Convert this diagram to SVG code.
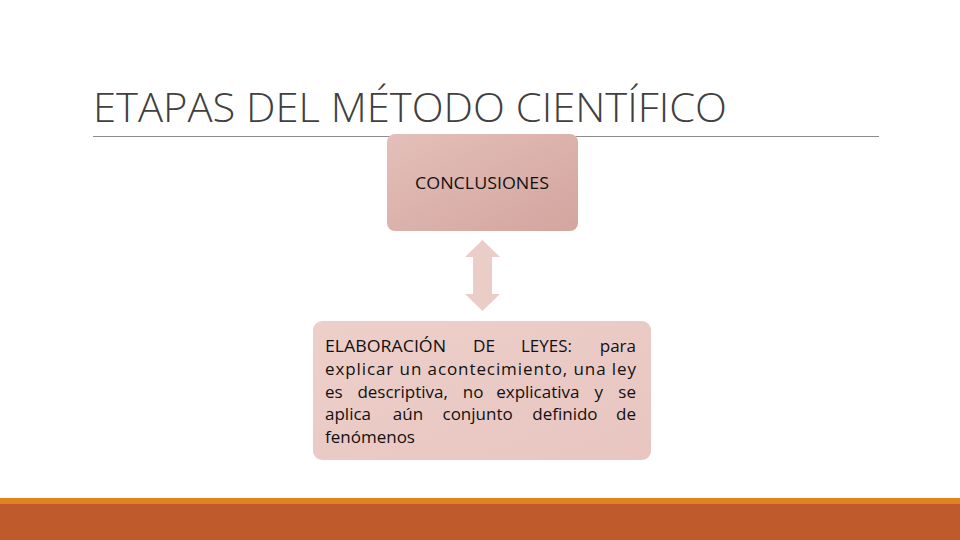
<svg xmlns="http://www.w3.org/2000/svg" width="960" height="540" viewBox="0 0 960 540">
<defs>
<linearGradient id="g1" x1="0" y1="0" x2="1" y2="1">
<stop offset="0" stop-color="#E4BFB9"/>
<stop offset="1" stop-color="#D3A59E"/>
</linearGradient>
<linearGradient id="g2" x1="0" y1="0" x2="1" y2="1">
<stop offset="0" stop-color="#EDCFCA"/>
<stop offset="1" stop-color="#E8C5C0"/>
</linearGradient>
<style>
.t{font-family:"Open Sans","Liberation Sans",sans-serif;fill:#111;}
.b{font-size:17px;}
.e{text-anchor:end;}
</style>
</defs>
<rect width="960" height="540" fill="#fff"/>
<text x="93" y="122" font-family="'Open Sans','Liberation Sans',sans-serif" font-weight="300" font-size="40" fill="#404040" textLength="634" lengthAdjust="spacingAndGlyphs">ETAPAS DEL MÉTODO CIENTÍFICO</text>
<line x1="93" y1="136.5" x2="879" y2="136.5" stroke="#8c8c8c" stroke-width="1"/>
<g id="conclusiones">
<rect x="387" y="134" width="191" height="97" rx="8" fill="url(#g1)"/>
<text class="t" x="482" y="189" font-size="16" text-anchor="middle" textLength="134" lengthAdjust="spacingAndGlyphs">CONCLUSIONES</text>
</g>
<g id="connectors">
<polygon points="482.5,240 500,257 492,257 492,294 500,294 482.5,311 465,294 473,294 473,257 465,257" fill="#EBCDC8"/>
</g>
<g id="leyes">
<rect x="313" y="321" width="338" height="139" rx="9" fill="url(#g2)"/>
<g class="t b">
<text x="325" y="352" textLength="121" lengthAdjust="spacingAndGlyphs">ELABORACIÓN</text>
<text x="473" y="352" textLength="22" lengthAdjust="spacingAndGlyphs">DE</text>
<text x="521" y="352" textLength="51" lengthAdjust="spacingAndGlyphs">LEYES:</text>
<text class="e" x="636" y="352">para</text>
<text x="325" y="375" textLength="311" lengthAdjust="spacing">explicar un acontecimiento, una ley</text>
<text x="325" y="398">es</text>
<text x="357.4" y="398">descriptiva,</text>
<text x="462.8" y="398">no</text>
<text x="496.2" y="398">explicativa</text>
<text x="594.6" y="398">y</text>
<text class="e" x="636" y="398">se</text>
<text x="325" y="420">aplica</text>
<text x="392.8" y="420">aún</text>
<text x="442.5" y="420">conjunto</text>
<text x="532.3" y="420">definido</text>
<text class="e" x="636" y="420">de</text>
<text x="325" y="443">fenómenos</text>
</g>
</g>
<rect x="0" y="498" width="960" height="6" fill="#E0821E"/>
<rect x="0" y="504" width="960" height="36" fill="#BE5A2C"/>
</svg>
